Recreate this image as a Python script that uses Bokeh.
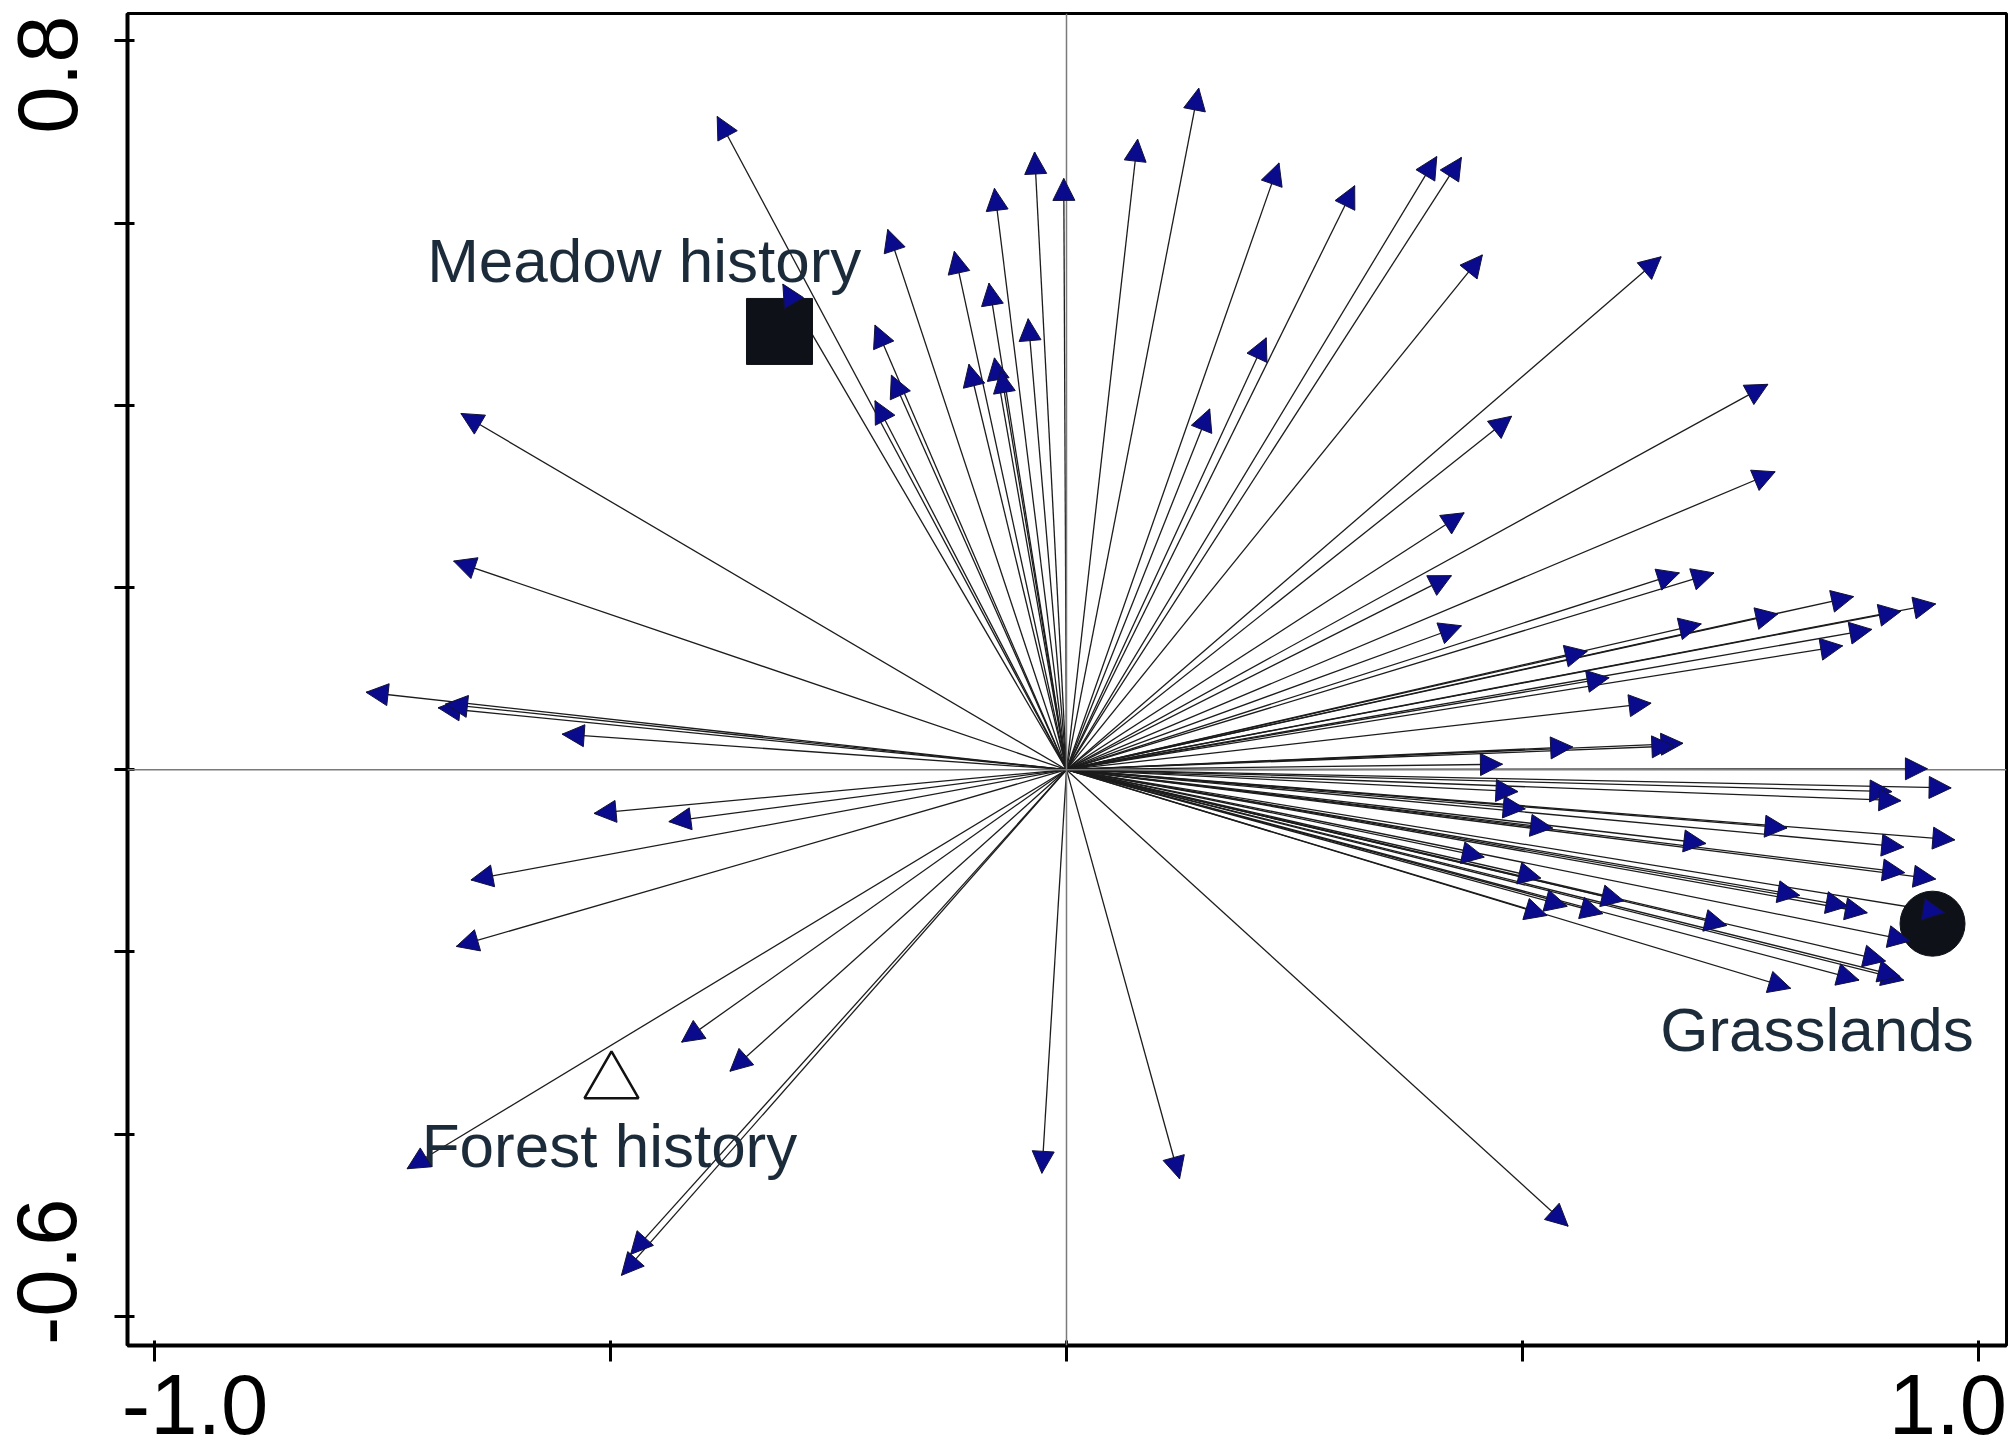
from bokeh.plotting import figure
from bokeh.models import (ColumnDataSource, Arrow, NormalHead, Span, Range1d,
                          FixedTicker)
from bokeh.core.properties import value
from bokeh.embed import file_html
from bokeh.resources import INLINE

# ---- data: species arrow tips (ordination scores) ----
arrow_x = [-0.383, -0.311, -0.664, -0.672, -0.768, -0.689, -0.681, -0.553,
           -0.196, -0.123, -0.079, -0.035, -0.003, -0.085, -0.042, -0.210,
           -0.192, -0.210, -0.107, -0.079, -0.072,
           0.078, 0.145, 0.233, 0.316, 0.406, 0.433, 0.456, 0.652, 0.769,
           0.488, 0.777, 0.219, 0.157, 0.436, 0.422, 0.433, 0.672, 0.710,
           0.863, 0.953, 0.915, 0.780, 0.696, 0.883, 0.851, 0.571, 0.595,
           0.641, 0.676, 0.555, 0.478, 0.666,
           0.944, 0.970, 0.905, 0.915, 0.495, 0.503, 0.974, 0.790, 0.918,
           0.533, 0.701, 0.458, 0.919, 0.953, 0.520, 0.611, 0.804, 0.857,
           0.878, 0.549, 0.527, 0.588, 0.724, 0.963, 0.925, 0.898, 0.869,
           0.918, 0.794, 0.914,
           -0.518, -0.436, -0.653, -0.669, -0.422, -0.369, -0.723, -0.488,
           -0.478, -0.027, 0.124, 0.550]
arrow_y = [0.717, 0.533, 0.391, 0.229, 0.085, 0.068, 0.072, 0.039,
           0.593, 0.569, 0.638, 0.678, 0.649, 0.534, 0.495, 0.488,
           0.433, 0.405, 0.445, 0.452, 0.438,
           0.692, 0.748, 0.666, 0.641, 0.673, 0.672, 0.565, 0.563, 0.423,
           0.388, 0.327, 0.474, 0.396, 0.282, 0.213, 0.158, 0.216, 0.216,
           0.190, 0.182, 0.174, 0.171, 0.160, 0.154, 0.136, 0.130, 0.101,
           0.073, 0.029, 0.025, 0.006, 0.026,
           0.001, -0.020, -0.024, -0.034, -0.024, -0.043, -0.077, -0.064,
           -0.085, -0.064, -0.081, -0.096, -0.113, -0.120, -0.119, -0.144,
           -0.138, -0.150, -0.157, -0.150, -0.160, -0.158, -0.171, -0.157,
           -0.188, -0.210, -0.231, -0.231, -0.240, -0.227,
           -0.048, -0.057, -0.121, -0.194, -0.299, -0.331, -0.438, -0.555,
           -0.532, -0.443, -0.449, -0.501]

# ---- data: supplementary (environmental) variables ----
env_names = ["Meadow history", "Grasslands", "Forest history"]
env_x = [-0.3147, 0.9496, -0.4989]
env_y = [0.481, -0.169, -0.3434]
label_x = [-0.701, 0.651, -0.707]
label_y = [0.559, -0.285, -0.4125]

# ---- axis ticks / labels ----
x_ticks = [-1.0, -0.5, 0.0, 0.5, 1.0]
y_ticks = [0.8, 0.6, 0.4, 0.2, 0.0, -0.2, -0.4, -0.6]
x_label_pos = [-0.9555, 0.9665]
x_label_text = ["-1.0", "1.0"]
y_label_pos = [0.763, -0.551]
y_label_text = ["0.8", "-0.6"]

FONT = "Liberation Sans"

p = figure(width=2011, height=1455, output_backend="svg", toolbar_location=None,
           x_range=Range1d(-1.0296, 1.0307), y_range=Range1d(-0.632, 0.830),
           min_border_left=127, min_border_right=5, min_border_top=13,
           min_border_bottom=110)
p.grid.visible = False
p.background_fill_color = "white"
p.border_fill_color = "white"
p.outline_line_color = "black"
p.outline_line_width = 3

# axes
xa = p.xaxis[0]
xa.ticker = FixedTicker(ticks=x_label_pos, minor_ticks=x_ticks)
xa.major_label_overrides = dict(zip(x_label_pos, x_label_text))
ya = p.yaxis[0]
ya.ticker = FixedTicker(ticks=y_label_pos, minor_ticks=y_ticks)
ya.major_label_overrides = dict(zip(y_label_pos, y_label_text))
ya.major_label_orientation = "vertical"
for ax in (xa, ya):
    ax.axis_line_width = 4
    ax.axis_line_color = "black"
    ax.major_tick_line_color = None
    ax.major_tick_in = 0
    ax.major_tick_out = 0
    ax.minor_tick_line_color = "black"
    ax.minor_tick_line_width = 3
    ax.major_label_text_font = FONT
    ax.major_label_text_font_size = "85px"
    ax.major_label_text_color = "black"
xa.minor_tick_in = 5
xa.minor_tick_out = 16
xa.major_label_standoff = 13
ya.minor_tick_in = 7
ya.minor_tick_out = 13
ya.major_label_standoff = 38

# zero lines
p.add_layout(Span(location=0, dimension="height", line_color="#7a7a7a", line_width=1.5))
p.add_layout(Span(location=0, dimension="width", line_color="#7a7a7a", line_width=1.5))

# arrow shafts
src = ColumnDataSource(dict(x0=[0.0] * len(arrow_x), y0=[0.0] * len(arrow_y),
                            x1=arrow_x, y1=arrow_y))
p.segment(x0="x0", y0="y0", x1="x1", y1="y1", source=src,
          line_color="#1c1c1c", line_width=1.3)

# environmental symbols
p.scatter([env_x[0]], [env_y[0]], marker="square", size=66,
          fill_color="#0e1218", line_color="#0e1218")
p.scatter([env_x[1]], [env_y[1]], marker="circle", size=65,
          fill_color="#0e1218", line_color="#0e1218")
p.scatter([env_x[2]], [env_y[2]], marker="triangle", size=54,
          fill_color="white", line_color="#111111", line_width=2.5)

p.text(x=label_x, y=label_y, text=env_names, text_font=value(FONT),
       text_font_size=value("62px"), text_color="#1c2b3a",
       text_align="left", text_baseline="alphabetic")

# arrow heads on top
p.add_layout(Arrow(end=NormalHead(size=22, fill_color="#0a0a8c",
                                  line_color="#12123a", line_width=1),
                   x_start="x0", y_start="y0", x_end="x1", y_end="y1",
                   source=src, line_alpha=0))

open("out.html", "w").write(file_html(p, INLINE))
